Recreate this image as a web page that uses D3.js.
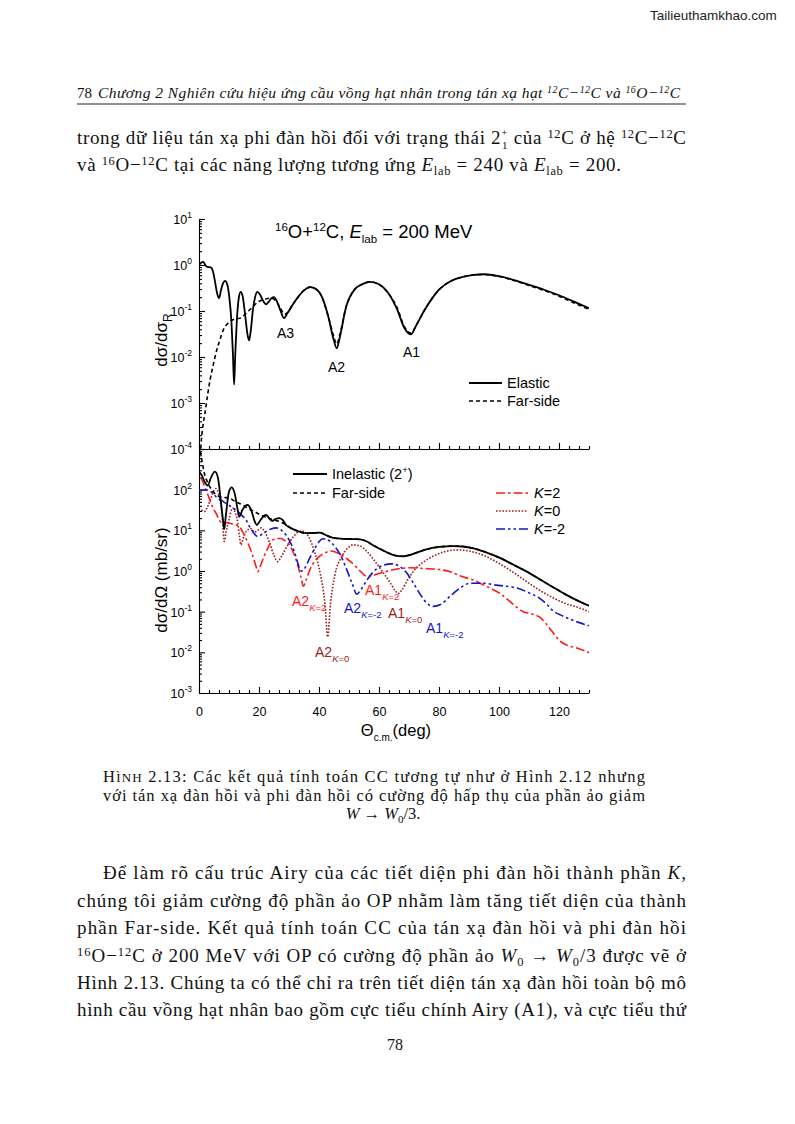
<!DOCTYPE html>
<html><head><meta charset="utf-8">
<script src="https://cdn.jsdelivr.net/npm/d3@7"></script>
<style>body{margin:0;background:#fff}svg{display:block}</style>
</head><body>
<svg id="page" width="795" height="1124"></svg>
<script>
// ---------------- DATA ----------------
const xTicks = [0, 20, 40, 60, 80, 100, 120];
const topYTicks = [1e-4, 1e-3, 1e-2, 1e-1, 1e0, 1e1];
const topYExp = ["-4", "-3", "-2", "-1", "0", "1"];
const botYTicks = [1e-3, 1e-2, 1e-1, 1e0, 1e1, 1e2];
const botYExp = ["-3", "-2", "-1", "0", "1", "2"];

const elastic = [[0,1.0],[0.7,1.12],[1.4,1.17],[2.1,1.0],[2.6,0.92],[3.3,0.9],[4.0,0.88],[4.6,0.75],[5.3,0.45],[6.0,0.25],[6.7,0.19],[7.3,0.28],[8.0,0.4],[8.7,0.45],[9.4,0.38],[10.1,0.2],[10.8,0.06],[11.3,0.012],[11.7,0.0025],[12.1,0.012],[12.6,0.06],[13.2,0.18],[13.9,0.26],[14.6,0.2],[15.4,0.08],[16.2,0.03],[16.7,0.023],[17.2,0.035],[18.0,0.11],[18.7,0.2],[19.4,0.26],[20.3,0.23],[21.3,0.17],[22.3,0.14],[23.3,0.16],[24.2,0.19],[25.0,0.2],[26.0,0.16],[27.2,0.1],[28.3,0.07],[29.5,0.09],[31,0.13],[33,0.2],[35,0.28],[37,0.33],[39,0.3],[41,0.2],[43,0.08],[44.8,0.025],[45.9,0.0155],[47,0.028],[49,0.12],[52,0.3],[54,0.37],[57,0.43],[60,0.38],[63,0.25],[66,0.11],[68.5,0.042],[70.6,0.031],[72.5,0.05],[75,0.1],[78,0.2],[80,0.29],[84,0.45],[87,0.53],[91,0.6],[95,0.63],[100,0.57],[105,0.47],[110,0.37],[115,0.29],[120,0.22],[125,0.16],[130,0.115]];

const farTop = [[0.3,5e-5],[0.8,1.6e-4],[1.3,3.2e-4],[2,6e-4],[2.8,1.4e-3],[3.7,3.2e-3],[4.8,7e-3],[5.9,0.014],[7,0.024],[8.1,0.039],[9.5,0.053],[10.9,0.063],[12.3,0.067],[13.7,0.07],[15,0.08],[16.5,0.1],[18,0.125],[19.8,0.16],[22,0.18],[24,0.19],[25.5,0.17],[27,0.12],[28.5,0.085],[30,0.1],[31,0.13],[33,0.2],[35,0.28],[37,0.33],[39,0.3],[41,0.2],[43,0.08],[44.8,0.03],[45.9,0.019],[47,0.032],[49,0.12],[52,0.3],[54,0.37],[57,0.43],[60,0.38],[63,0.25],[66,0.12],[68.5,0.045],[70.6,0.033],[72.5,0.05],[75,0.1],[78,0.2],[80,0.29],[84,0.45],[87,0.53],[91,0.6],[95,0.62],[100,0.56],[105,0.46],[110,0.36],[115,0.28],[120,0.21],[125,0.15],[130,0.108]];

const inelastic = [[0,280],[1,220],[2,150],[2.9,126],[4,200],[5.3,277],[6.3,200],[7.3,50],[8,18],[8.4,10.7],[9,25],[10,90],[10.9,114],[11.9,80],[12.8,35],[13.4,21.6],[14.5,32],[16.2,42],[17.5,30],[18.5,17],[19.3,13.5],[20.5,18],[22.3,24],[23.4,20],[24.3,17],[25.5,19],[26.8,20],[28,17.5],[29,13.5],[30.5,11.5],[32.3,10],[35.7,8.5],[38,8.6],[40.3,8.8],[42.5,7.5],[44.8,6.5],[48,6.2],[51,6.1],[53.7,6.0],[56,5.3],[58,4.3],[60.3,3.5],[63,2.8],[65.5,2.4],[68.1,2.3],[70.5,2.5],[73,2.9],[75.8,3.4],[80,3.9],[84.8,4.1],[88,4.0],[91.5,3.6],[95,3.0],[100.3,2.1],[105,1.4],[110,0.9],[113.7,0.62],[118,0.4],[122,0.27],[126,0.19],[130,0.14]];

const farBot = [[0,1300],[0.5,800],[1,500],[1.8,250],[2.9,150],[4.2,100],[5.7,75],[8,65],[10.1,62],[12.3,50],[14.6,42],[16.5,34],[18.4,29],[20.5,24],[23,20],[25,18],[26.8,16.5],[28.5,14.5],[30.5,11.5],[32.3,10],[35.7,8.5],[38,8.6],[40.3,8.8],[42.5,7.5],[44.8,6.5],[48,6.2],[51,6.1],[53.7,6.0],[56,5.3],[58,4.3],[60.3,3.5],[63,2.8],[65.5,2.4],[68.1,2.3],[70.5,2.5],[73,2.9],[75.8,3.4],[80,3.9],[84.8,4.1],[88,4.0],[91.5,3.6],[95,3.0],[100.3,2.1],[105,1.4],[110,0.9],[113.7,0.62],[118,0.4],[122,0.27],[126,0.19],[130,0.14]];

const kPlus2 = [[0.5,200],[1.2,160],[2.3,100],[3.4,62],[4.5,38],[5.7,26],[7.3,16],[8.7,15.5],[10.1,15],[11.8,14],[13.4,12.4],[15.1,7.7],[16.5,4.5],[17.9,2.4],[19,1.3],[19.6,0.96],[20.4,1.3],[21.8,2.4],[23.2,4],[24.6,5.8],[26,6.3],[27.3,6.3],[28.7,5.5],[30.1,4.4],[31.5,2.8],[32.9,1.4],[34,0.7],[34.8,0.42],[35.7,0.6],[37,1.1],[38.2,1.6],[40.5,2.4],[42.5,2.9],[44.2,3.1],[46.5,2.7],[49.3,2.0],[52,1.35],[54,0.95],[55.9,0.75],[58,0.78],[60.3,0.88],[63,1.0],[66,1.12],[70.3,1.2],[75,1.15],[80.3,1.08],[84,0.95],[87,0.76],[91.4,0.6],[95,0.45],[100.3,0.28],[104,0.17],[108.1,0.1],[111,0.088],[113.7,0.072],[116,0.047],[118.1,0.03],[120,0.02],[122.6,0.015],[126,0.0128],[130,0.0098]];

const kZero = [[0.8,32],[1.8,29],[3,40],[4,62],[5,95],[5.7,107],[6.5,80],[7.3,42],[7.9,15],[8.4,5.3],[9,9],[10.1,20],[11.2,35],[12,28],[12.9,16],[13.5,7],[14,4.4],[14.6,6],[15.7,9.3],[17.3,11],[18.4,9],[19.6,10],[20.8,11.5],[22,9],[23.5,5],[25,2.4],[26.2,1.7],[27.5,2.3],[29.6,4.4],[31.5,7],[33.4,9.3],[34.8,9.5],[36.5,7],[38.5,3],[40.5,0.8],[42,0.15],[42.9,0.024],[43.8,0.15],[45.3,0.8],[47.5,2.2],[49.5,3.6],[51.4,4.4],[53.5,4.2],[56,3],[58.5,1.8],[61,1.0],[63.5,0.55],[65.5,0.32],[66.4,0.28],[67.5,0.33],[69.5,0.6],[72,1.1],[75,1.7],[78.5,2.4],[82,3.0],[85.9,3.3],[90,3.1],[95,2.4],[100.3,1.5],[105,0.9],[110,0.5],[113.7,0.33],[118,0.22],[122,0.16],[126,0.13],[130,0.1]];

const kMinus2 = [[0,98],[2.9,98],[4.3,85],[5.7,67],[7.3,55],[9,46],[11,37],[12.9,29],[14.4,23],[15.7,18],[16.9,12],[17.9,9.3],[19.6,7],[21,8],[22.3,9.3],[24,10.8],[25.7,11.5],[27.5,10],[29,7.7],[30.5,5],[31.8,3],[33,1.5],[34,1.0],[35,1.1],[36.5,1.8],[38.5,3.5],[41.4,6.2],[43.5,5.5],[45.5,3.8],[47,2.6],[49,1.2],[51,0.5],[52.6,0.27],[54,0.35],[56,0.6],[58.1,0.95],[61,1.35],[64.2,1.5],[66.5,1.35],[69.2,0.9],[71.5,0.5],[74,0.25],[76,0.16],[78.1,0.135],[80.5,0.15],[84,0.25],[87,0.38],[90.3,0.5],[95,0.5],[99,0.45],[102.6,0.42],[106,0.38],[110,0.29],[113.7,0.21],[116,0.15],[118,0.105],[121,0.08],[125,0.06],[130,0.045]];

// ---------------- SETUP ----------------
const svg = d3.select('#page');
const SANS = 'Liberation Sans, Arial, sans-serif';
const SERIF = 'Liberation Serif, Times New Roman, serif';
const RED = '#ff1a1a', DRED = '#9e1c1c', BLUE = '#1515c8';

const x = d3.scaleLinear().domain([0, 130]).range([199, 589]);
const yTop = d3.scaleLog().domain([1e-4, 1e1]).range([449, 219]);
const yBot = d3.scaleLog().domain([1e-3, 1e3]).range([693, 449]);

// rich text helper
function rich(g, px, py, segs, o) {
  o = Object.assign({size: 17, small: 11, sup: 6, sub: 4, family: SERIF, fill: '#111', anchor: 'start'}, o || {});
  const t = g.append('text').attr('x', px).attr('y', py)
    .attr('font-family', o.family).attr('font-size', o.size).attr('fill', o.fill)
    .attr('text-anchor', o.anchor);
  if (o.len) t.attr('textLength', o.len).attr('lengthAdjust', 'spacing');
  if (o.italic) t.attr('font-style', 'italic');
  let cur = 0;
  segs.forEach(s => {
    if (typeof s === 'string') s = {t: s};
    const off = s.sup ? -(s.shift || o.sup) : s.sub ? (s.shift || o.sub) : 0;
    const ts = t.append('tspan').text(s.t);
    if (off - cur !== 0) ts.attr('dy', off - cur);
    cur = off;
    if (s.sup || s.sub) ts.attr('font-size', s.fs || o.small);
    else if (s.fs) ts.attr('font-size', s.fs);
    if (s.it) ts.attr('font-style', 'italic');
    if (s.dx) ts.attr('dx', s.dx);
  });
  return t;
}

// ---------------- PAGE TEXT ----------------
svg.append('text').attr('x', 650).attr('y', 20).attr('font-family', SANS)
  .attr('font-size', 13.5).attr('fill', '#222').text('Tailieuthamkhao.com');

// running header
rich(svg, 77, 98, ['78'], {size: 15});
rich(svg, 98, 98, [
  'Chương 2 Nghiên cứu hiệu ứng cầu vồng hạt nhân trong tán xạ hạt ',
  {t: '12', sup: 1}, 'C−', {t: '12', sup: 1}, 'C và ', {t: '16', sup: 1}, 'O−', {t: '12', sup: 1}, 'C'
], {size: 15.5, small: 10, sup: 5, italic: true, len: 582});
svg.append('line').attr('x1', 77).attr('x2', 686).attr('y1', 104).attr('y2', 104)
  .attr('stroke', '#222').attr('stroke-width', 1.2);

const BODY = 19;
// body before figure
rich(svg, 77, 144, [
  'trong dữ liệu tán xạ phi đàn hồi đối với trạng thái 2', {t: '+', sup: 1, shift: 8, fs: 11}, {t: '1', sub: 1, shift: 5, fs: 11, dx: -6},
  ' của ', {t: '12', sup: 1}, 'C ở hệ ', {t: '12', sup: 1}, 'C−', {t: '12', sup: 1}, 'C'
], {size: BODY, small: 12.5, len: 609});
rich(svg, 77, 171, [
  'và ', {t: '16', sup: 1}, 'O−', {t: '12', sup: 1}, 'C tại các năng lượng tương ứng ',
  {t: 'E', it: 1}, {t: 'lab', sub: 1}, ' = 240 và ', {t: 'E', it: 1}, {t: 'lab', sub: 1}, ' = 200.'
], {size: BODY, small: 12.5, len: 544});

// caption
rich(svg, 103, 782, [{t: 'H'}, {t: 'ÌNH', fs: 13}, ' 2.13: Các kết quả tính toán CC tương tự như ở Hình 2.12 nhưng'],
  {size: 16.5, len: 542});
rich(svg, 103, 801, ['với tán xạ đàn hồi và phi đàn hồi có cường độ hấp thụ của phần ảo giảm'],
  {size: 16.5, len: 542});
rich(svg, 383, 819, [{t: 'W', it: 1}, ' → ', {t: 'W', it: 1}, {t: '0', sub: 1}, '/3.'],
  {size: 16.5, small: 11, anchor: 'middle'});

// paragraph
const paraY = [879, 907, 934, 962, 989, 1016];
rich(svg, 103, paraY[0], ['Để làm rõ cấu trúc Airy của các tiết diện phi đàn hồi thành phần ', {t: 'K', it: 1}, ','],
  {size: BODY, len: 583});
rich(svg, 77, paraY[1], ['chúng tôi giảm cường độ phần ảo OP nhằm làm tăng tiết diện của thành'], {size: BODY, len: 609});
rich(svg, 77, paraY[2], ['phần Far-side. Kết quả tính toán CC của tán xạ đàn hồi và phi đàn hồi'], {size: BODY, len: 609});
rich(svg, 77, paraY[3], [{t: '16', sup: 1}, 'O−', {t: '12', sup: 1}, 'C ở 200 MeV với OP có cường độ phần ảo ',
  {t: 'W', it: 1}, {t: '0', sub: 1}, ' → ', {t: 'W', it: 1}, {t: '0', sub: 1}, '/3 được vẽ ở'], {size: BODY, small: 12.5, len: 609});
rich(svg, 77, paraY[4], ['Hình 2.13. Chúng ta có thể chỉ ra trên tiết diện tán xạ đàn hồi toàn bộ mô'], {size: BODY, len: 609});
rich(svg, 77, paraY[5], ['hình cầu vồng hạt nhân bao gồm cực tiểu chính Airy (A1), và cực tiểu thứ'], {size: BODY, len: 609});
rich(svg, 395, 1050, ['78'], {size: 16, anchor: 'middle'});

// ---------------- CHART ----------------
const defs = svg.append('defs');
defs.append('clipPath').attr('id', 'clipTop').append('rect')
  .attr('x', x(0)).attr('y', yTop(1e1)).attr('width', x(130) - x(0)).attr('height', yTop(1e-4) - yTop(1e1));
defs.append('clipPath').attr('id', 'clipBot').append('rect')
  .attr('x', x(0)).attr('y', yBot(1e3)).attr('width', x(130) - x(0)).attr('height', yBot(1e-3) - yBot(1e3));

function minorLog(lo, hi) {
  const out = [];
  for (let e = lo; e < hi; e++) for (let m = 2; m <= 9; m++) out.push(m * Math.pow(10, e));
  return out;
}
const xMinor = d3.range(0, 40).map(i => i * 20 / 6).filter((v, i) => i % 6 !== 0 && v <= 130.001);

function yAxis(scale, majors, exps, minors) {
  const g = svg.append('g').attr('transform', `translate(${x(0)},0)`);
  g.append('g').call(d3.axisLeft(scale).tickValues(minors).tickSizeInner(-3).tickSizeOuter(0).tickFormat(() => ''))
    .call(s => s.select('.domain').remove());
  const gm = g.append('g').call(d3.axisLeft(scale).tickValues(majors).tickSizeInner(-6).tickSizeOuter(0).tickFormat(() => ''));
  gm.selectAll('.tick').each(function (d, i) {
    if (exps[i] === undefined) return;
    const t = d3.select(this).append('text').attr('x', -7).attr('y', 4.5).attr('fill', '#000')
      .attr('text-anchor', 'end').attr('font-family', SANS).attr('font-size', 12.5);
    t.append('tspan').text('10');
    t.append('tspan').text(exps[i]).attr('font-size', 8.5).attr('dy', -6);
  });
  g.selectAll('line,path').attr('stroke', '#000').attr('stroke-width', 1.1);
}
function xAxis(yPos, labels) {
  const g = svg.append('g').attr('transform', `translate(0,${yPos})`);
  g.append('g').call(d3.axisBottom(x).tickValues(xMinor).tickSizeInner(-3).tickSizeOuter(0).tickFormat(() => ''))
    .call(s => s.select('.domain').remove());
  const gm = g.append('g').call(d3.axisBottom(x).tickValues(xTicks).tickSizeInner(-6).tickSizeOuter(0)
    .tickFormat(labels ? d3.format('d') : () => ''));
  gm.selectAll('text').attr('y', 14).attr('font-family', SANS).attr('font-size', 12.5).attr('fill', '#000');
  g.selectAll('line,path').attr('stroke', '#000').attr('stroke-width', 1.1);
}

yAxis(yTop, topYTicks, topYExp, minorLog(-4, 1));
yAxis(yBot, botYTicks.concat([1e3]), botYExp, minorLog(-3, 3));
xAxis(yTop(1e-4), false);
xAxis(yBot(1e-3), true);

// series
function drawLine(data, yS, clip, stroke, dash, w) {
  const line = d3.line().x(d => x(d[0])).y(d => yS(d[1])).curve(d3.curveMonotoneX);
  svg.append('path').datum(data).attr('d', line).attr('clip-path', `url(#${clip})`)
    .attr('fill', 'none').attr('stroke', stroke).attr('stroke-width', w || 1.6)
    .attr('stroke-dasharray', dash || null).attr('stroke-linejoin', 'round');
}
const DASH = '4,3', DASHDOT = '9,3,2.5,3', DOT = '1.6,1.6', DASHDOTDOT = '9,3,2.5,3,2.5,3';
drawLine(farTop, yTop, 'clipTop', '#000', DASH, 1.6);
drawLine(elastic, yTop, 'clipTop', '#000', null, 1.8);
drawLine(kZero, yBot, 'clipBot', DRED, DOT, 1.6);
drawLine(kPlus2, yBot, 'clipBot', RED, DASHDOT, 1.6);
drawLine(kMinus2, yBot, 'clipBot', BLUE, DASHDOTDOT, 1.6);
drawLine(farBot, yBot, 'clipBot', '#000', DASH, 1.6);
drawLine(inelastic, yBot, 'clipBot', '#000', null, 1.8);

// titles
rich(svg, 275, 238, [{t: '16', sup: 1}, 'O+', {t: '12', sup: 1}, 'C, ', {t: 'E', it: 1}, {t: 'lab', sub: 1}, ' = 200 MeV'],
  {family: SANS, size: 18.5, small: 11.5, sup: 7, sub: 5, fill: '#000'});

svg.append('g').attr('transform', 'translate(167,340) rotate(-90)')
  .call(g => rich(g, 0, 0, ['dσ/dσ', {t: 'R', sub: 1}], {family: SANS, size: 17, small: 12, sub: 5, fill: '#000', anchor: 'middle'}));
svg.append('g').attr('transform', 'translate(167,580) rotate(-90)')
  .call(g => rich(g, 0, 0, ['dσ/dΩ (mb/sr)'], {family: SANS, size: 17, fill: '#000', anchor: 'middle'}));
rich(svg, 396, 736, ['Θ', {t: 'c.m.', sub: 1}, '(deg)'], {family: SANS, size: 16.5, small: 10, sub: 5, fill: '#000', anchor: 'middle'});

// top annotations
const SA = {family: SANS, size: 14, fill: '#000'};
rich(svg, 277, 338, ['A3'], SA);
rich(svg, 328, 372, ['A2'], SA);
rich(svg, 403, 357, ['A1'], SA);

// legends
function legItem(g, y, stroke, dash, label, x1, x2, tx, w) {
  g.append('line').attr('x1', x1).attr('x2', x2).attr('y1', y).attr('y2', y)
    .attr('stroke', stroke).attr('stroke-width', w || 1.6).attr('stroke-dasharray', dash || null);
  rich(g, tx, y + 5, label, {family: SANS, size: 14.5, small: 9.5, sup: 6, fill: '#000'});
}
legItem(svg, 383, '#000', null, ['Elastic'], 469, 502, 507, 1.8);
legItem(svg, 401, '#000', DASH, ['Far-side'], 469, 502, 507);
legItem(svg, 474, '#000', null, ['Inelastic (2', {t: '+', sup: 1}, ')'], 293, 327, 332, 1.8);
legItem(svg, 493, '#000', DASH, ['Far-side'], 293, 327, 332);
legItem(svg, 493, RED, DASHDOT, [{t: 'K', it: 1}, '=2'], 496, 528, 534);
legItem(svg, 511, DRED, DOT, [{t: 'K', it: 1}, '=0'], 496, 528, 534);
legItem(svg, 529, BLUE, DASHDOTDOT, [{t: 'K', it: 1}, '=-2'], 496, 528, 534);

// bottom annotations
function ann(px, py, main, sub, color) {
  rich(svg, px, py, [main, {t: 'K', sub: 1, it: 1}, {t: sub, sub: 1}], {family: SANS, size: 14, small: 9.5, sub: 5, fill: color});
}
ann(292, 606, 'A2', '=2', RED);
ann(365, 595, 'A1', '=2', RED);
ann(344, 613, 'A2', '=-2', BLUE);
ann(426, 633, 'A1', '=-2', BLUE);
ann(388, 618, 'A1', '=0', DRED);
ann(315, 657, 'A2', '=0', DRED);
</script>
</body></html>
